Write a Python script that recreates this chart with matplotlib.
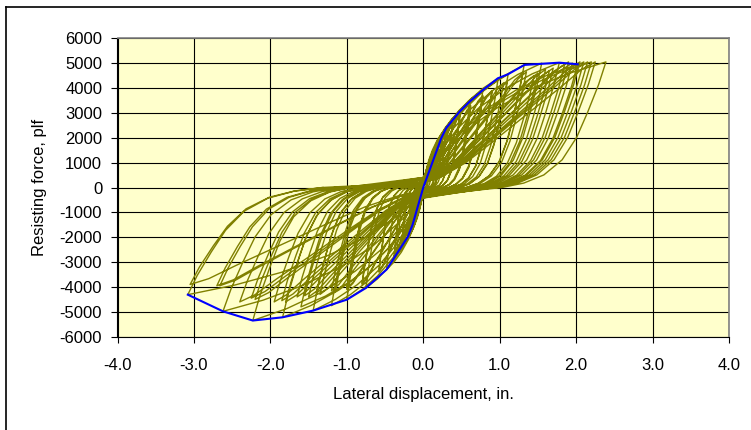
import matplotlib.pyplot as plt
from matplotlib.lines import Line2D
from matplotlib.ticker import FormatStrFormatter, MultipleLocator

plt.rcParams['font.family'] = ['Liberation Sans', 'DejaVu Sans']
plt.rcParams['axes.unicode_minus'] = False

# peak points of each loading cycle: positive push, then negative pull
pos_disp = [0.05, 0.08, 0.12, 0.18, 0.24, 0.20, 0.30, 0.25, 0.25,
            0.48, 0.38, 0.38, 0.61, 0.48, 0.48, 0.78, 0.62, 0.62,
            0.98, 0.78, 0.78, 1.11, 0.90, 0.90, 1.32, 1.05, 1.10,
            1.55, 1.30, 1.35, 1.78, 1.45, 1.50, 1.60, 2.02, 1.65,
            1.70, 1.85, 2.20, 1.90, 1.95, 2.05, 2.39, 2.10, 2.15, 2.25]
pos_force = [500, 800, 1150, 1600, 1980, 1750, 2390, 2050, 2000,
             3050, 2600, 2550, 3450, 2950, 2900, 3920, 3300, 3250,
             4390, 3700, 3650, 4550, 3900, 3850, 4930, 4200, 4250,
             5000, 4600, 4650, 5020, 4500, 4600, 4750, 4955, 4700,
             4800, 4950, 5050, 5050, 5000, 5050, 5050, 5050, 5050, 5050]
neg_disp = [-0.04, -0.06, -0.09, -0.12, -0.14, -0.12, -0.20, -0.17, -0.17,
            -0.35, -0.28, -0.28, -0.48, -0.38, -0.38, -0.75, -0.58, -0.58,
            -1.00, -0.80, -0.80, -1.20, -1.00, -1.00, -1.44, -1.15, -1.20,
            -1.60, -1.35, -1.40, -1.84, -1.50, -1.55, -1.65, -2.23, -1.80,
            -1.85, -1.95, -2.62, -2.20, -2.25, -2.40, -3.08, -2.66, -2.70,
            -3.05]
neg_force = [-400, -650, -950, -1250, -1500, -1300, -1970, -1700, -1650,
             -2700, -2300, -2250, -3300, -2800, -2750, -4040, -3400, -3350,
             -4510, -3900, -3850, -4750, -4100, -4050, -4950, -4200, -4150,
             -4800, -4300, -4250, -5220, -4400, -4350, -4400, -5350, -4600,
             -4550, -4600, -4980, -4500, -4450, -4600, -4310, -3950, -3950,
             -3900]

# backbone curve through the first-cycle peaks
env_disp = [-3.08, -2.62, -2.23, -1.84, -1.44, -1.00, -0.75, -0.48, -0.20,
            -0.14, 0.0, 0.235, 0.30, 0.475, 0.605, 0.78, 0.975, 1.106,
            1.324, 1.78, 2.02]
env_force = [-4310, -4980, -5350, -5220, -4950, -4510, -4040, -3300, -1970,
             -1500, 0, 1980, 2390, 3050, 3450, 3920, 4390, 4550,
             4930, 5020, 4955]

# branch shapes as fractions of the cycle peak (displacement, force)
first_x = [0.0, 0.1, 0.25, 0.4, 0.6, 0.8, 1.0]
first_f = [0.08, 0.25, 0.47, 0.63, 0.79, 0.91, 1.0]
reload_x = [0.0, 0.1, 0.25, 0.4, 0.6, 0.8, 0.92, 1.0]
reload_f = [0.04, 0.08, 0.2, 0.36, 0.58, 0.8, 0.94, 1.0]
unload_x = [1.0, 0.96, 0.90, 0.84, 0.76, 0.66, 0.55, 0.43]
unload_f = [1.0, 0.82, 0.60, 0.40, 0.22, 0.10, 0.035, 0.0]

trace_x, trace_y = [0.0], [0.0]
reach = {1: 0.0, -1: 0.0}
for dp, fp, dn, fn in zip(pos_disp, pos_force, neg_disp, neg_force):
    for d, f in ((dp, fp), (dn, fn)):
        side = 1 if d > 0 else -1
        # a new maximum excursion follows the stiffer first-loading shape
        if abs(d) > reach[side]:
            load_x, load_f = first_x, first_f
            reach[side] = abs(d)
        else:
            load_x, load_f = reload_x, reload_f
        for xs, fs in ((load_x, load_f), (unload_x, unload_f)):
            trace_x += [d * x for x in xs]
            trace_y += [f * y for y in fs]

fig = plt.figure(figsize=(7.51, 4.30), dpi=100)
ax = fig.add_axes([117.5 / 751, (430 - 336.7) / 430,
                   (729 - 117.5) / 751, (336.7 - 38.3) / 430])
ax.set_facecolor('#FFFFCC')

ax.plot(trace_x, trace_y, color='#808000', lw=1.0, zorder=3)
ax.plot(env_disp, env_force, color='#0000FF', lw=1.5, zorder=4)

ax.set_xlim(-4, 4)
ax.set_ylim(-6000, 6000)
ax.xaxis.set_major_locator(MultipleLocator(1.0))
ax.yaxis.set_major_locator(MultipleLocator(1000))
ax.xaxis.set_major_formatter(FormatStrFormatter('%.1f'))
ax.grid(True, color='black', lw=0.8, zorder=1)
ax.set_axisbelow(True)
ax.tick_params(axis='both', direction='out', length=4, width=0.8,
               labelsize=12, colors='black')
ax.tick_params(axis='x', pad=11)
ax.tick_params(axis='y', pad=7)

for side in ('top', 'right'):
    ax.spines[side].set_color('#808080')
    ax.spines[side].set_linewidth(1.2)
for side in ('left', 'bottom'):
    ax.spines[side].set_color('black')
    ax.spines[side].set_linewidth(0.8)

fig.text(423.5 / 751, 1 - 395 / 430, 'Lateral displacement, in.',
         ha='center', va='center', fontsize=12)
fig.text(40 / 751, 1 - 187.5 / 430, 'Resisting force, plf',
         ha='center', va='center', rotation=90, fontsize=12)

# chart frame, running off the right and bottom edges
fig.add_artist(Line2D([5.5 / 751, 5.5 / 751], [0, 1 - 6.5 / 430],
                      transform=fig.transFigure, color='black', lw=1.2))
fig.add_artist(Line2D([5.5 / 751, 1], [1 - 6.5 / 430, 1 - 6.5 / 430],
                      transform=fig.transFigure, color='black', lw=1.2))

fig.savefig('out.png', dpi=100)
